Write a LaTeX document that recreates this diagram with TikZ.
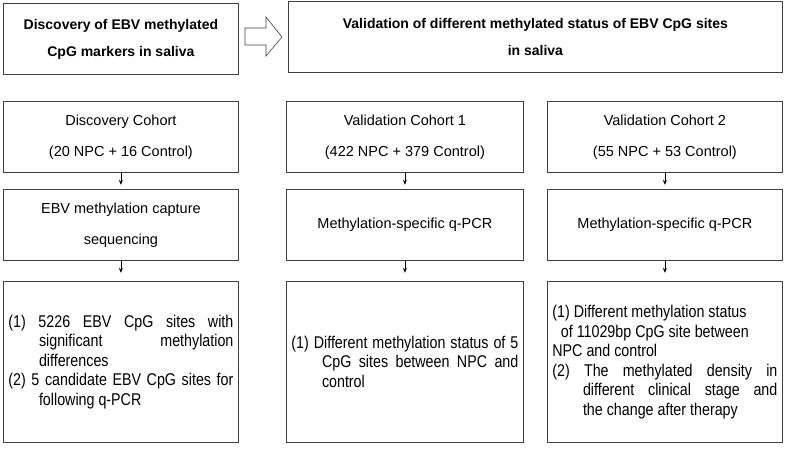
\documentclass[tikz,border=0pt]{standalone}
\usepackage{fontspec}
\setmainfont{Liberation Sans}
\newfontfamily\narrowfont[FakeStretch=0.84]{Liberation Sans}
\usetikzlibrary{arrows.meta}
\tikzset{
  box/.style={draw=black!75, line width=0.8pt, anchor=north west, align=center, font=\fontsize{14.5}{31}\selectfont},
  headbox/.style={box, font=\bfseries\fontsize{14}{27}\selectfont},
  listbox/.style={box, align=justify, font=\narrowfont\fontsize{17}{19.5}\selectfont, inner xsep=5pt},
  down/.style={-{Stealth[length=5pt,width=4pt]}, line width=0.7pt}
}
\newcommand{\itm}[2]{\hangindent=1.8em\hangafter=1 (#1)~#2\par}
\begin{document}
\begin{tikzpicture}[x=1pt,y=-1pt]
\useasboundingbox (0,0) rectangle (788,452);
% Top row: the two stages
\node[headbox, minimum width=235pt, minimum height=71pt] (stA) at (3,3) {Discovery of EBV methylated\\CpG markers in saliva};
\node[headbox, minimum width=494pt, minimum height=71pt] (stB) at (288,1) {Validation of different methylated status of EBV CpG sites\\in saliva};
\draw[black!75, line width=0.6pt] (245,28) -- (266,28) -- (266,17) -- (282,37) -- (266,56) -- (266,45) -- (245,45) -- cycle;

% Cohorts
\node[box, minimum width=235pt, minimum height=71pt] (c1) at (3,101) {Discovery Cohort\\(20 NPC + 16 Control)};
\node[box, minimum width=237pt, minimum height=71pt] (c2) at (286,101) {Validation Cohort 1\\(422 NPC + 379 Control)};
\node[box, minimum width=235pt, minimum height=71pt] (c3) at (547,101) {Validation Cohort 2\\(55 NPC + 53 Control)};

% Methods
\node[box, minimum width=235pt, minimum height=71pt] (m1) at (3,189) {EBV methylation capture\\sequencing};
\node[box, minimum width=237pt, minimum height=71pt] (m2) at (286,189) {Methylation-specific q-PCR};
\node[box, minimum width=235pt, minimum height=71pt] (m3) at (547,189) {Methylation-specific q-PCR};

% Results
\node[listbox, minimum width=235pt, minimum height=161pt, text width=225pt] (r1) at (3,281) {\hyphenpenalty=10000
\itm{1}{5226 EBV CpG sites with significant methylation differences}%
\itm{2}{5 candidate EBV CpG sites for following q-PCR}};
\node[listbox, minimum width=237pt, minimum height=161pt, text width=227pt] (r2) at (286,281) {\hyphenpenalty=10000
\itm{1}{Different methylation status of 5 CpG sites between NPC and control}};
\node[listbox, minimum width=235pt, minimum height=161pt, text width=225pt] (r3) at (547,281) {\hyphenpenalty=10000
{\raggedright\hangindent=1.8em\hangafter=1 (1)~Different methylation status\\\hspace*{0.5em}of 11029bp CpG site between\\NPC and control\par}%
\itm{2}{The methylated density in different clinical stage and the change after therapy}};

% Connectors
\foreach \i in {1,2,3} {
  \draw[down] (c\i.south) -- ++(0,12);
  \draw[down] (m\i.south) -- ++(0,12);
}
\end{tikzpicture}
\end{document}
